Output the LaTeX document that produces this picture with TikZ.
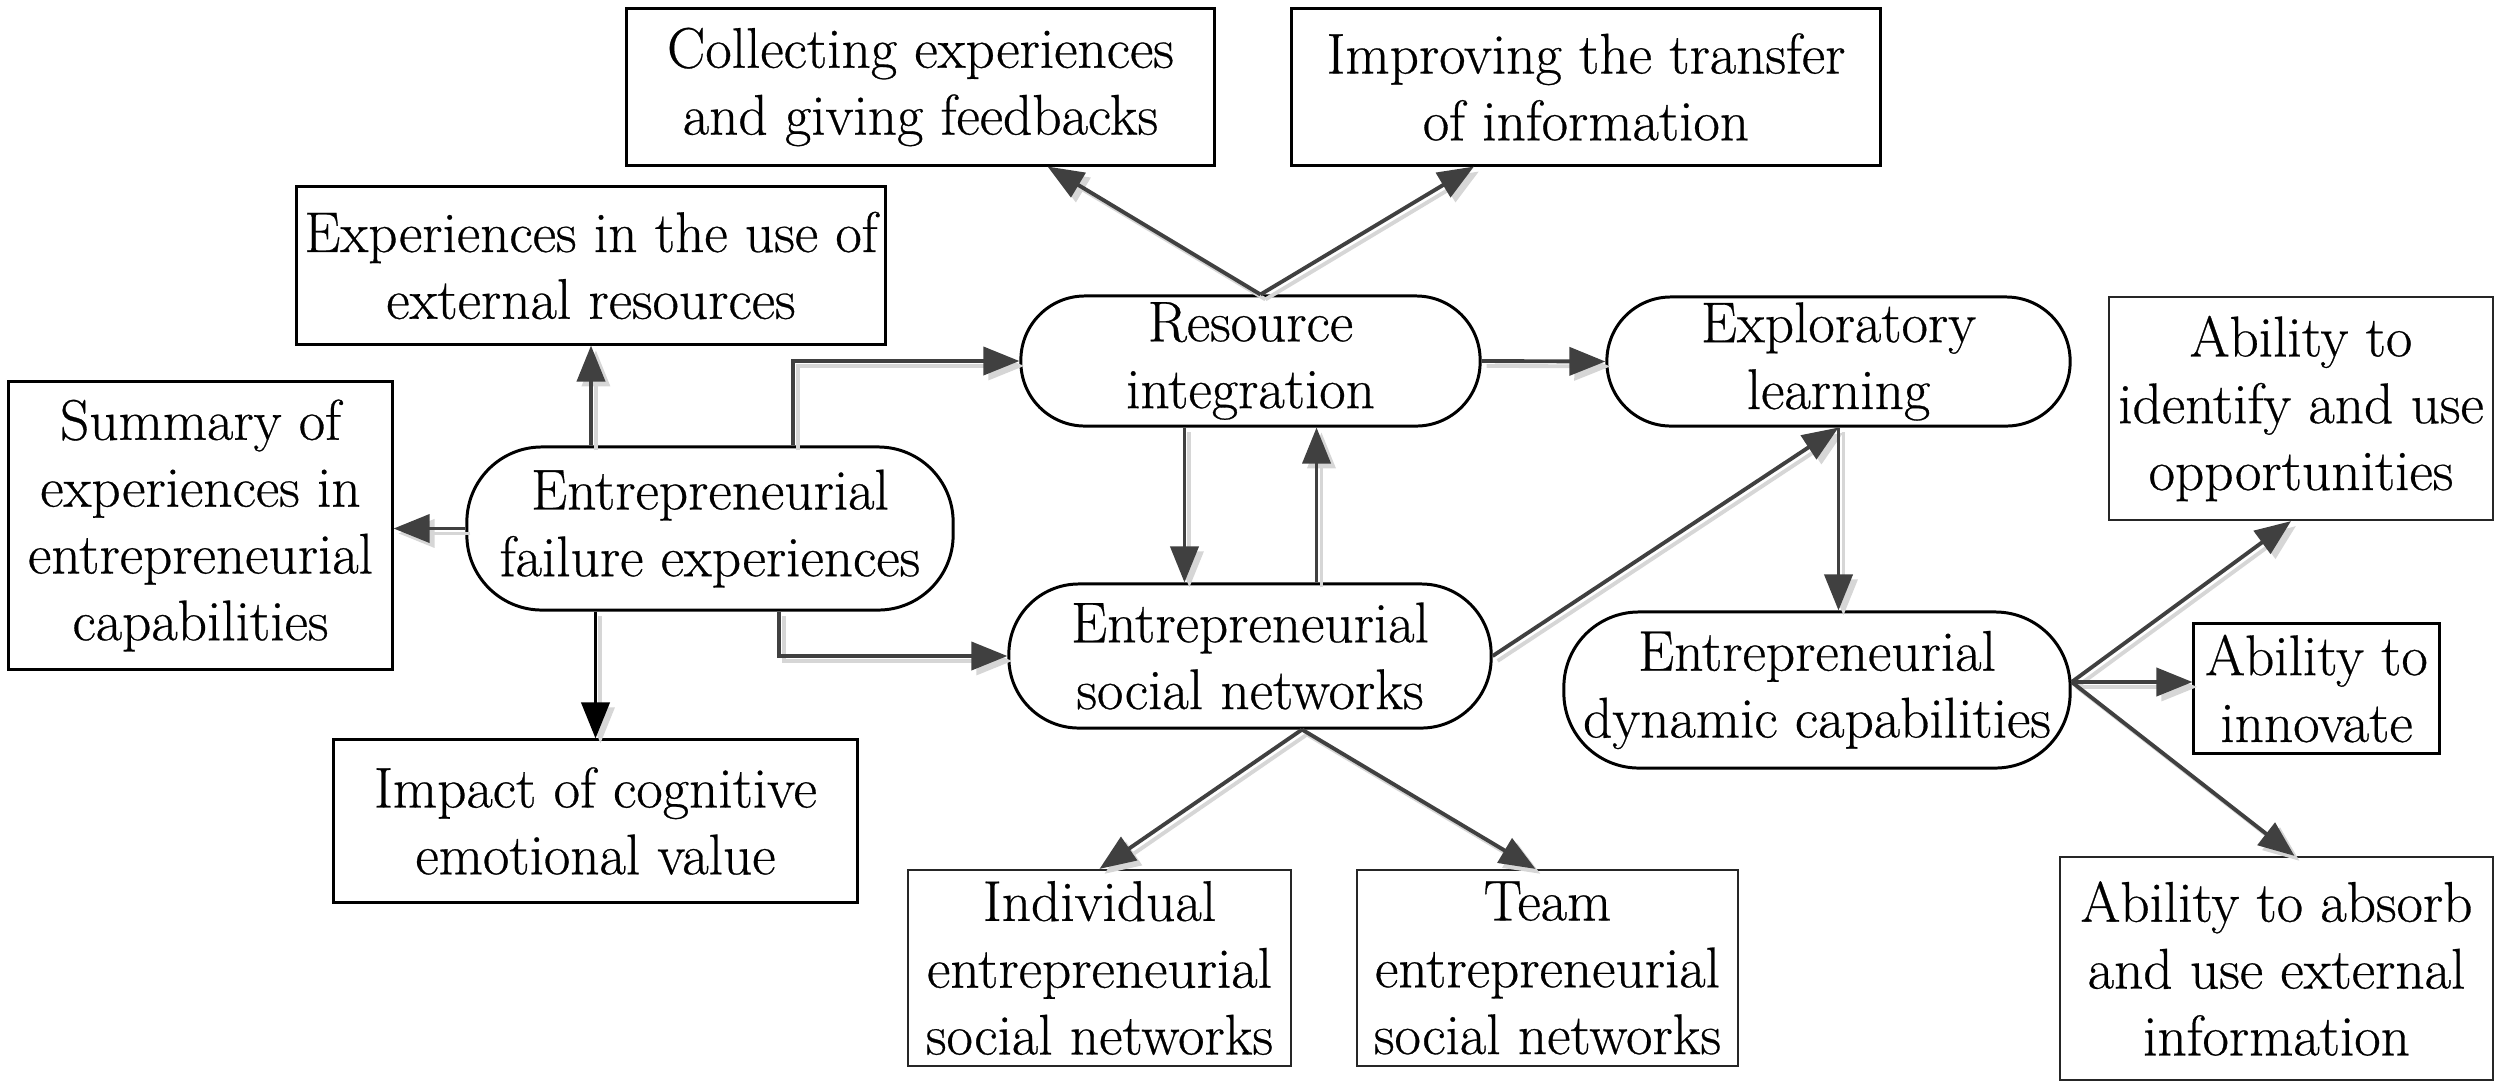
\documentclass[tikz,border=0pt]{standalone}
\usepackage{fontspec}
\newfontfamily\diagfont{Latin Modern Roman}[FakeBold=0.5]
\usetikzlibrary{arrows.meta}
\definecolor{conncol}{HTML}{404040}
\definecolor{shadcol}{HTML}{D6D6D6}
\begin{document}
\begin{tikzpicture}[x=0.01cm,y=-0.01cm,
  font=\diagfont\fontsize{16.3}{19}\selectfont,
  box/.style={draw=black, line width=0.85pt, inner sep=0pt, align=center},
  thinbox/.style={box, line width=0.6pt, draw=black!85},
  pill/.style={draw=black, line width=0.85pt, inner sep=0pt, align=center, rounded corners=#1},
  conn/.style={draw=conncol, line width=1.1pt, -{Triangle[length=0.36cm,width=0.28cm]},
    preaction={draw=shadcol, line width=1.1pt, transform canvas={shift={(1.4pt,-1.4pt)}}}},
]
\useasboundingbox (0,0) rectangle (2500,1087);

% boxes
\node[box, minimum width=5.87cm, minimum height=1.56cm] (coll) at (920.5,87) {Collecting experiences\\and giving feedbacks};
\node[box, minimum width=5.88cm, minimum height=1.56cm] (impr) at (1586,87) {Improving the transfer\\of information};
\node[box, minimum width=5.88cm, minimum height=1.57cm] (exp) at (591,265.5) {Experiences in the use of\\external resources};
\node[box, minimum width=3.83cm, minimum height=2.87cm] (summ) at (200.5,525.5) {Summary of\\experiences in\\entrepreneurial\\capabilities};
\node[box, minimum width=5.23cm, minimum height=1.62cm] (impact) at (595.5,821) {Impact of cognitive\\emotional value};
\node[thinbox, minimum width=3.83cm, minimum height=1.96cm] (indiv) at (1099.5,968) {Individual\\entrepreneurial\\social networks};
\node[thinbox, minimum width=3.81cm, minimum height=1.96cm] (team) at (1547.5,968) {Team\\entrepreneurial\\social networks};
\node[thinbox, minimum width=3.84cm, minimum height=2.23cm] (ident) at (2301,408.5) {Ability to\\identify and use\\opportunities};
\node[box, minimum width=2.45cm, minimum height=1.29cm] (innov) at (2316.5,688.5) {Ability to\\innovate};
\node[thinbox, minimum width=4.33cm, minimum height=2.23cm] (absorb) at (2276.5,968.5) {Ability to absorb\\and use external\\information};

% rounded nodes
\node[pill=0.75cm, minimum width=4.86cm, minimum height=1.63cm] (efe) at (710,528.5) {Entrepreneurial\\failure experiences};
\node[pill=0.64cm, minimum width=4.59cm, minimum height=1.30cm] (ri) at (1250.5,361) {Resource\\integration};
\node[pill=0.64cm, minimum width=4.63cm, minimum height=1.29cm] (el) at (1838.5,361.5) {Exploratory\\learning};
\node[pill=0.70cm, minimum width=4.82cm, minimum height=1.44cm] (esn) at (1250,656) {Entrepreneurial\\social networks};
\node[pill=0.75cm, minimum width=5.06cm, minimum height=1.56cm] (edc) at (1817,690) {Entrepreneurial\\dynamic capabilities};

% connectors
\draw[conn] (efe.west) -- (efe.west -| summ.east);
\draw[conn] (efe.north -| exp.south) -- (exp.south);
\draw[conn, draw=black] (efe.south -| impact.north) -- (impact.north);
\draw[conn] ([xshift=0.83cm]efe.north) |- (ri.west);
\draw[conn] ([xshift=0.69cm]efe.south) |- (esn.west);

\draw[conn] ([xshift=0.1cm]ri.north) -- ([xshift=1.27cm]coll.south);
\draw[conn] ([xshift=0.1cm]ri.north) -- ([xshift=-1.12cm]impr.south);
\draw[conn] (ri.east) -- (el.west);
\draw[conn] ([xshift=-0.66cm]ri.south) -- ([xshift=-0.66cm]ri.south |- esn.north);
\draw[conn] ([xshift=0.66cm]ri.south |- esn.north) -- ([xshift=0.66cm]ri.south);

\draw[conn] (esn.east) -- (el.south);
\draw[conn] (el.south) -- (el.south |- edc.north);
\draw[conn] ([xshift=0.52cm]esn.south) -- (indiv.north);
\draw[conn] ([xshift=0.52cm]esn.south) -- ([xshift=-0.12cm]team.north);

\coordinate (edcp) at ([yshift=0.08cm]edc.east);
\draw[conn] (edcp) -- ([xshift=-0.1cm]ident.south);
\draw[conn] (edcp) -- (edcp -| innov.west);
\draw[conn] (edcp) -- ([xshift=0.18cm]absorb.north);
\end{tikzpicture}
\end{document}
